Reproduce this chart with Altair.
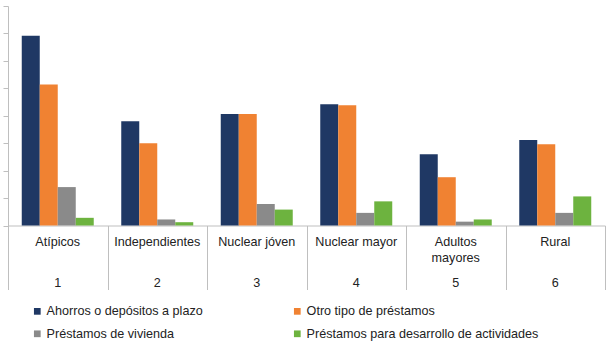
import altair as alt
import pandas as pd

grupos = ["Atípicos", "Independientes", "Nuclear jóven", "Nuclear mayor", "Adultos mayores", "Rural"]
etiquetas = ["Atípicos", "Independientes", "Nuclear jóven", "Nuclear mayor", "Adultos\nmayores", "Rural"]
numeros = ["1", "2", "3", "4", "5", "6"]
series = ["Ahorros o depósitos a plazo", "Otro tipo de préstamos",
          "Préstamos de vivienda", "Préstamos para desarrollo de actividades"]
ahorros = [34.6, 19.0, 20.3, 22.1, 13.0, 15.6]
otro = [25.7, 15.0, 20.3, 21.9, 8.8, 14.8]
vivienda = [7.0, 1.1, 3.9, 2.3, 0.7, 2.3]
desarrollo = [1.4, 0.6, 2.9, 4.4, 1.1, 5.3]
colores = ["#1f3864", "#f08232", "#8a8a8a", "#6db33f"]

rows = []
for s, vals in zip(series, [ahorros, otro, vivienda, desarrollo]):
    for g, v in zip(grupos, vals):
        rows.append({"grupo": g, "serie": s, "valor": v})
df = pd.DataFrame(rows)
lab = pd.DataFrame({"grupo": grupos, "etiqueta": etiquetas, "numero": numeros})

FONT = "Liberation Sans"
FS = 12.6
TXT = "#222222"

xscale = alt.Scale(domain=grupos, paddingInner=0, paddingOuter=0)

bars = alt.Chart(df).mark_bar().encode(
    x=alt.X("grupo:N", scale=xscale, sort=grupos, title=None,
            axis=alt.Axis(labels=False, tickBand="extent", tickSize=64,
                          tickColor="#bfbfbf", domainColor="#bfbfbf", grid=False)),
    xOffset=alt.XOffset("serie:N", sort=series,
                        scale=alt.Scale(paddingInner=0, paddingOuter=0.764)),
    y=alt.Y("valor:Q", scale=alt.Scale(domain=[0, 40], nice=False), title=None,
            axis=alt.Axis(labels=False, values=[0, 5, 10, 15, 20, 25, 30, 35, 40],
                          tickSize=5, tickColor="#bfbfbf", domainColor="#bfbfbf", grid=False)),
    color=alt.Color("serie:N", sort=series, scale=alt.Scale(domain=series, range=colores),
                    legend=alt.Legend(title=None, orient="none", legendX=23, legendY=299,
                                      direction="horizontal", columns=2, columnPadding=88,
                                      rowPadding=9.5,
                                      symbolType="square", symbolSize=45, symbolStrokeWidth=0,
                                      labelFont=FONT, labelFontSize=FS,
                                      labelColor=TXT, labelOffset=3, labelLimit=400)),
)

names = alt.Chart(lab).mark_text(baseline="top", fontSize=FS, font=FONT,
                                 color=TXT, lineBreak="\n", lineHeight=16).encode(
    x=alt.X("grupo:N", scale=xscale, sort=grupos),
    y=alt.value(230),
    text="etiqueta:N",
)
nums = alt.Chart(lab).mark_text(baseline="middle", fontSize=FS, font=FONT,
                                color=TXT).encode(
    x=alt.X("grupo:N", scale=xscale, sort=grupos),
    y=alt.value(276.5),
    text="numero:N",
)

chart = alt.layer(bars, names, nums).properties(
    width=597, height=219.5,
    autosize=alt.AutoSizeParams(type="none"),
    padding={"left": 8, "top": 6, "right": 3, "bottom": 120},
).configure_view(stroke=None).configure_axis(domainWidth=1, tickWidth=1)

chart.save("out.html", embed_options={"renderer": "svg", "actions": False})
